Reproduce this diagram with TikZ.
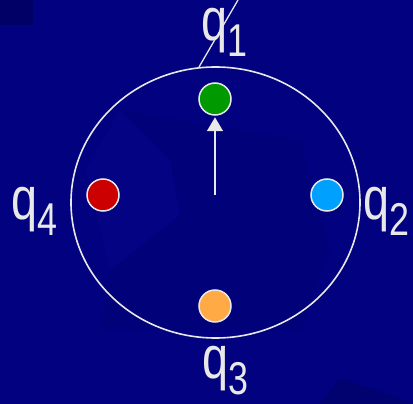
\documentclass[tikz,border=0pt]{standalone}
\usepackage{fontspec}
\setmainfont{Liberation Sans}
\usetikzlibrary{arrows.meta,shapes.geometric}
\definecolor{navy}{RGB}{2,2,128}
\definecolor{navydark}{RGB}{0,0,102}
\definecolor{navysoft}{RGB}{1,1,122}
\definecolor{navylight}{RGB}{3,3,131}
\definecolor{ink}{RGB}{232,232,232}
\definecolor{qgreen}{RGB}{0,153,0}
\definecolor{qblue}{RGB}{0,160,255}
\definecolor{qred}{RGB}{204,0,0}
\definecolor{qorange}{RGB}{255,170,68}
\newcommand{\qlab}[1]{\scalebox{0.78}[1]{\fontsize{60}{60}\selectfont q\raisebox{-16pt}{\fontsize{46}{46}\selectfont #1}}}
\tikzset{
  dot/.style={circle, draw=ink, line width=1.5pt, minimum size=32pt, inner sep=0pt},
  qlabel/.style={anchor=base west, inner sep=0pt, outer sep=0pt, text=ink},
  wline/.style={draw=ink, line width=1.6pt}
}
\begin{document}
\begin{tikzpicture}[x=1pt,y=-1pt]
\useasboundingbox (0,0) rectangle (413,404);
\fill[navy] (0,0) rectangle (413,404);
\fill[navydark] (0,0) rectangle (33,25);
\fill[navysoft] (120,110) -- (170,160) -- (180,215) -- (110,270) -- (100,330) -- (300,330) -- (330,250) -- (300,140) -- cycle;
\fill[navylight] (110,270) -- (180,215) -- (170,160) -- (120,110) -- (85,170) -- cycle;
\fill[navydark!60!navy] (320,404) -- (340,378) -- (390,395) -- (413,404) -- cycle;
\draw[wline] (215.5,202.5) ellipse [x radius=144.5, y radius=135.5];
\coordinate (ltop) at (199,67);
\coordinate (lend) at (238,0);
\draw[draw=ink, line width=1.3pt] (ltop) -- (lend);
\node[dot, fill=qgreen] (g) at (215,99) {};
\node[dot, fill=qblue] (b) at (327,195) {};
\node[dot, fill=qred] (r) at (103,195) {};
\node[dot, fill=qorange] (o) at (215,306) {};
\coordinate (c) at (215,195);
\draw[wline, -{Triangle[width=16pt,length=14pt]}, shorten >=1.5pt] (c) -- (g.south);
\node[qlabel] (q1) at (201,41) {\qlab{1}};
\node[qlabel] (q2) at (363,219) {\qlab{2}};
\node[qlabel] (q3) at (202,378) {\qlab{3}};
\node[qlabel] (q4) at (11,219) {\qlab{4}};
\end{tikzpicture}
\end{document}
